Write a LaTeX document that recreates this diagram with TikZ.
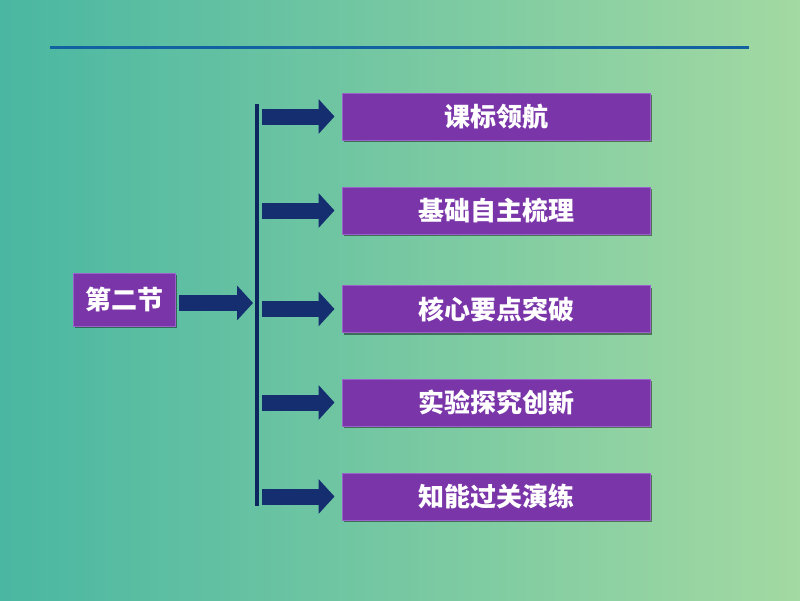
\documentclass[tikz,border=0pt]{standalone}
\usepackage{fontspec}
\newfontfamily\cjk{Noto Sans CJK SC}
\usetikzlibrary{arrows.meta,shadows}
\definecolor{bgl}{HTML}{4AB7A2}
\definecolor{bgr}{HTML}{A3D9A2}
\definecolor{topline}{HTML}{1262A2}
\definecolor{boxfill}{HTML}{7A36A9}
\definecolor{boxedge}{HTML}{9C62CC}
\definecolor{navy}{HTML}{142E70}
\definecolor{spinec}{HTML}{0C2660}
\tikzset{
  box/.style={rectangle, fill=boxfill, draw=boxedge, line width=1pt,
    inner sep=0pt, text=white, font=\cjk\bfseries\fontsize{26}{30}\selectfont,
    drop shadow={shadow xshift=1.5pt, shadow yshift=-2pt, opacity=0.45, fill=black}},
  itembox/.style={box, minimum width=308pt, minimum height=47pt},
  barrow/.style={draw=navy, line width=16pt,
    -{Triangle[length=16pt,width=34pt]}},
  spine/.style={draw=spinec, line width=4pt},
}
\begin{document}
\begin{tikzpicture}[x=1pt,y=-1pt]
\shade[left color=bgl, right color=bgr] (0,0) rectangle (800,600);
\useasboundingbox (0,0) rectangle (800,600);
\coordinate (l1) at (50,47);
\coordinate (l2) at (749,47);
\draw[topline, line width=3pt] (l1) -- (l2);

\node[box, minimum width=102pt, minimum height=53pt] (sec) at (124,299.5) {第二节};
\node[itembox] (b1) at (496,116.5) {课标领航};
\node[itembox] (b2) at (496,210.5) {基础自主梳理};
\node[itembox] (b3) at (496,309) {核心要点突破};
\node[itembox] (b4) at (496,402.5) {实验探究创新};
\node[itembox] (b5) at (496,496.5) {知能过关演练};

\coordinate (st) at (257,104);
\coordinate (sb) at (257,506);
\draw[spine] (st) -- (sb);

\coordinate (sa) at (179,303);
\coordinate (se) at (253,303);
\draw[barrow] (sa) -- (se);

\foreach \b in {b1,b2,b3,b4,b5}{
  \draw[barrow, shorten <=5pt, shorten >=7pt] (\b.west -| st) -- (\b.west);
}
\end{tikzpicture}
\end{document}
